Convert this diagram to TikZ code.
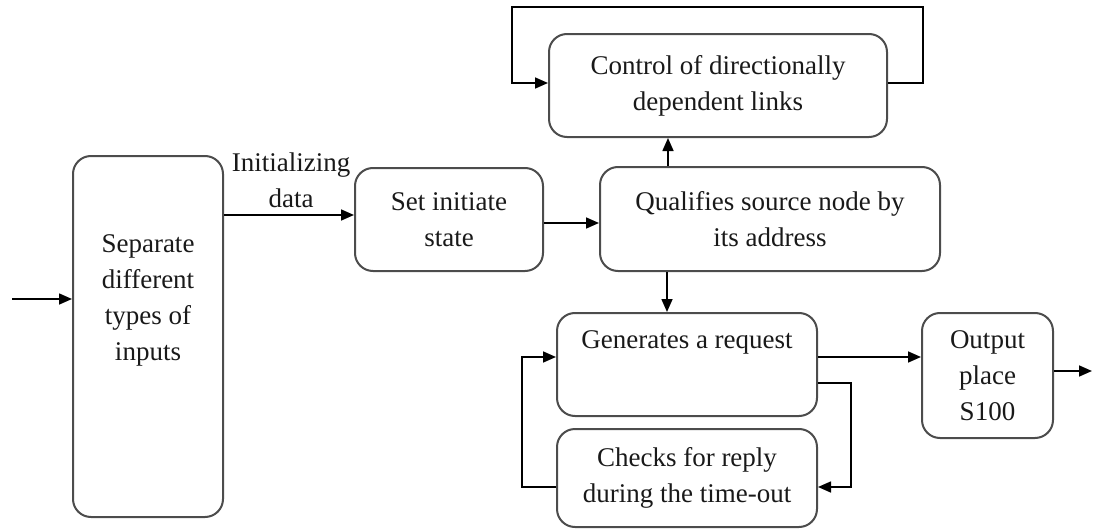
\documentclass[tikz,border=0pt]{standalone}
\usepackage{fontspec}
\setmainfont{Liberation Serif}
\usetikzlibrary{arrows.meta}
\begin{document}
\begin{tikzpicture}[x=0.5pt,y=-0.5pt,
  box/.style={draw=black!70, line width=1pt, rounded corners=9pt, inner sep=0pt, align=center},
  txt/.style={align=center, inner sep=0pt, text=black!90, font=\fontsize{13.5pt}{18pt}\selectfont},
  arr/.style={draw=black, line width=0.8pt, -{Triangle[length=6.5pt,width=5.5pt]}}]
\useasboundingbox (0,0) rectangle (1094,530);
% boxes
\node[box, minimum width=75pt, minimum height=180.5pt] (sep) at (148,336.5) {};
\node[txt] (septxt) at (148,300) {Separate\\different\\types of\\inputs};
\node[box, txt, minimum width=94pt, minimum height=51.5pt] (set) at (449,219.5) {Set initiate\\state};
\node[box, txt, minimum width=170pt, minimum height=52pt] (qual) at (770,219) {Qualifies source node by\\its address};
\node[box, txt, minimum width=169pt, minimum height=51.5pt] (ctrl) at (718,85.5) {Control of directionally\\dependent links};
\node[box, minimum width=130pt, minimum height=51.5pt] (gen) at (687,364.5) {};
\node[txt] (gentxt) at (687,342) {Generates a request};
\node[box, txt, minimum width=130pt, minimum height=49pt] (chk) at (687,478) {Checks for reply\\during the time-out};
\node[box, txt, minimum width=65.5pt, minimum height=62.5pt] (out) at (987.5,375.5) {Output\\place\\S100};
% label
\node[txt] (lbl) at (291,180) {Initializing\\data};
% free ends
\coordinate (in) at (12,299);
\coordinate (fin) at (1092,371);
% connectors
\draw[arr] (in) -- (in -| sep.west);
\draw[arr] (sep.east |- 0,215) -- (set.west |- 0,215);
\draw[arr] (set.east |- 0,223) -- (qual.west |- 0,223);
\draw[arr] (qual.north -| 668,0) -- (ctrl.south -| 668,0);
\draw[arr] (ctrl.east |- 0,83) -- (923,83) -- (923,7) -- (512,7) -- (512,83) -- (ctrl.west |- 0,83);
\draw[arr] (qual.south -| 667,0) -- (gen.north -| 667,0);
\draw[arr] (gen.east |- 0,357) -- (out.west |- 0,357);
\draw[arr] (out.east |- fin) -- (fin);
\draw[arr] (gen.east |- 0,383) -- (851,383) -- (851,487) -- (chk.east |- 0,487);
\draw[arr] (chk.west |- 0,487) -- (522,487) -- (522,357) -- (gen.west |- 0,357);
\end{tikzpicture}
\end{document}
